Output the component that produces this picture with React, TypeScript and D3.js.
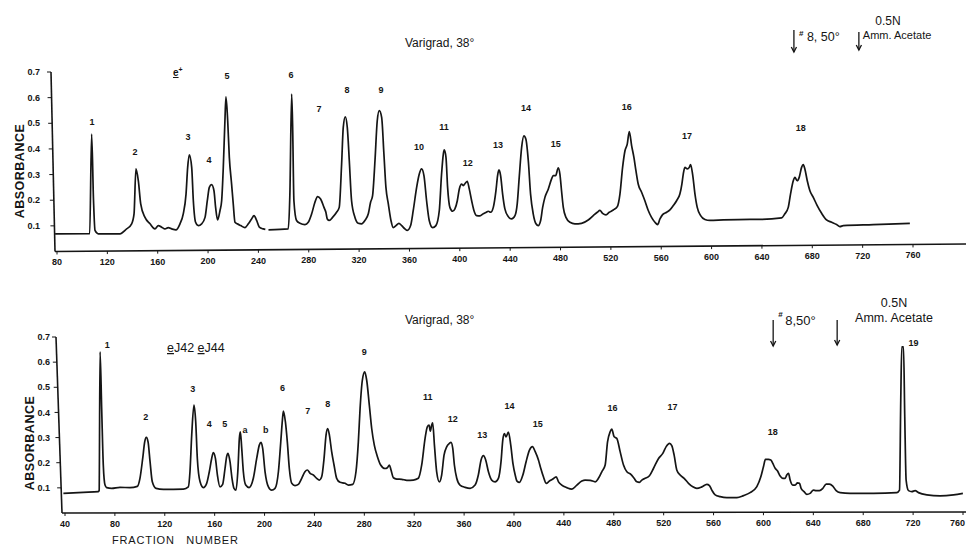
import React from "react";
import * as d3 from "d3";

// fraction number vs absorbance
// upper run: the pen lifts once near fraction 246, so it is kept in two pieces
const topTraceA: [number, number][] = [
  [78.5, 0.069], [106, 0.07], [107.5, 0.458], [109, 0.2], [110.2, 0.082], [112.8, 0.069],
  [130, 0.069], [135.3, 0.088], [139.3, 0.108], [141.2, 0.147], [142.7, 0.322], [144.6, 0.276],
  [146.5, 0.186], [149.9, 0.133], [153.9, 0.108], [157.8, 0.088], [160.5, 0.101], [163.1, 0.095],
  [165.8, 0.088], [168.4, 0.093], [171.1, 0.088], [174.5, 0.084], [177.7, 0.108], [180.3, 0.147],
  [182.5, 0.224], [183.8, 0.328], [185.1, 0.377], [187, 0.328], [188.3, 0.198], [190.1, 0.114],
  [192.3, 0.101], [194.9, 0.108], [197.6, 0.133], [199.4, 0.198], [201, 0.25], [202.8, 0.261],
  [204.7, 0.237], [206, 0.172], [207.6, 0.123], [209.5, 0.16], [210.8, 0.198], [212.1, 0.328],
  [213.4, 0.51], [214.2, 0.603], [215.6, 0.51], [216.9, 0.367], [218.7, 0.263], [220, 0.186],
  [221.4, 0.114], [223.2, 0.108], [225.9, 0.101], [229.3, 0.093], [232, 0.108], [234.6, 0.127],
  [236.5, 0.14], [238.6, 0.121], [240.7, 0.095], [243.9, 0.088], [245.5, 0.086],
];

const topTraceB: [number, number][] = [
  [248, 0.084], [263.7, 0.088], [265, 0.224], [266.4, 0.614], [267.2, 0.484], [268.2, 0.198],
  [270.3, 0.121], [273, 0.11], [277, 0.105], [279.6, 0.114], [282.3, 0.147], [284.9, 0.192],
  [287, 0.214], [289.4, 0.205], [292.1, 0.172], [293.6, 0.153], [294.7, 0.127], [296.3, 0.121],
  [298.9, 0.133], [302.1, 0.153], [304.2, 0.172], [306.1, 0.341], [307.4, 0.484], [309, 0.525],
  [310.6, 0.484], [312.2, 0.354], [314, 0.198], [316.7, 0.133], [319.3, 0.11], [322, 0.108],
  [324.6, 0.121], [327.3, 0.147], [329.1, 0.192], [330.7, 0.218], [332.6, 0.354], [334.4, 0.51],
  [336, 0.549], [337.9, 0.523], [339.7, 0.38], [341.3, 0.25], [343.2, 0.186], [345.3, 0.121],
  [347.1, 0.093], [349.3, 0.101], [351.6, 0.11], [353.8, 0.101], [356.4, 0.088], [358.3, 0.082],
  [360.9, 0.101], [363, 0.16], [365.7, 0.25], [367.8, 0.302], [369.6, 0.322], [371.5, 0.296],
  [373.6, 0.198], [375.7, 0.121], [378.4, 0.093], [381, 0.101], [383.7, 0.16], [385.5, 0.302],
  [386.9, 0.38], [387.6, 0.396], [389, 0.367], [390.3, 0.25], [392.1, 0.172], [394.3, 0.157],
  [396.1, 0.166], [398, 0.198], [399.6, 0.244], [401.4, 0.263], [402.7, 0.257], [404.3, 0.266],
  [405.9, 0.274], [407.5, 0.244], [409.4, 0.198], [411.2, 0.16], [413.3, 0.14], [416, 0.139],
  [418.6, 0.147], [420.7, 0.152], [422.6, 0.157], [424.5, 0.153], [426.6, 0.172], [428.7, 0.237],
  [430, 0.296], [431.1, 0.318], [432.4, 0.296], [434, 0.224], [435.8, 0.166], [438.5, 0.136],
  [441.1, 0.127], [443.8, 0.14], [445.6, 0.186], [447.2, 0.29], [449.1, 0.406], [450.9, 0.451],
  [452.5, 0.438], [454.4, 0.354], [456.2, 0.224], [458.3, 0.147], [460.5, 0.108], [462.3, 0.101],
  [464.2, 0.121], [465.8, 0.172], [467.6, 0.211], [470.3, 0.244], [472.9, 0.283], [474.2, 0.296],
  [476.1, 0.296], [478.2, 0.326], [479.5, 0.302], [480.8, 0.237], [482.2, 0.172], [484.3, 0.133],
  [487.5, 0.114], [491.4, 0.108], [496.7, 0.11], [502, 0.123], [506, 0.14], [509.2, 0.153],
  [511.3, 0.16], [513.4, 0.149], [516.1, 0.143], [518.7, 0.153], [521.9, 0.162], [525.1, 0.175],
  [527.2, 0.224], [529.3, 0.328], [531.2, 0.393], [533, 0.419], [534.6, 0.468], [536.5, 0.412],
  [538.3, 0.367], [539.9, 0.315], [541.7, 0.263], [544.4, 0.231], [547, 0.198], [549.7, 0.16],
  [552.3, 0.133], [555, 0.114], [557.1, 0.105], [559, 0.127], [561.1, 0.144], [564.3, 0.153],
  [566.9, 0.162], [569.6, 0.179], [572.2, 0.198], [574.8, 0.224], [576.4, 0.263], [577.5, 0.302],
  [578.8, 0.328], [580.7, 0.322], [582.3, 0.328], [583.3, 0.339], [584.9, 0.302], [586.8, 0.224],
  [588.6, 0.172], [591.3, 0.14], [594.7, 0.125], [598.7, 0.121], [609.3, 0.123], [630.5, 0.125],
  [638.4, 0.125], [655.6, 0.131], [658.2, 0.147], [660.9, 0.172], [662.7, 0.224], [664.9, 0.276],
  [666.2, 0.289], [668, 0.276], [669.6, 0.289], [671.5, 0.328], [672.8, 0.339], [674.1, 0.322],
  [676, 0.276], [678.1, 0.237], [680.8, 0.211], [683.9, 0.179], [687.4, 0.149], [691.3, 0.123],
  [695.3, 0.114], [699.3, 0.105], [701.9, 0.097], [704.6, 0.101], [728.4, 0.105], [757.5, 0.11],
];

// lower run
const bottomTrace: [number, number][] = [
  [38.7, 0.078], [54.7, 0.082], [66.7, 0.085], [67.4, 0.09], [68.1, 0.641], [69.4, 0.416],
  [70.7, 0.191], [72.1, 0.111], [73.4, 0.101], [77.4, 0.098], [84.1, 0.102], [92.1, 0.101],
  [98, 0.106], [100.1, 0.138], [102.3, 0.217], [103.9, 0.283], [105.2, 0.301], [106.6, 0.283],
  [108.2, 0.204], [110, 0.124], [113, 0.098], [118.9, 0.094], [134.9, 0.095], [138.9, 0.104],
  [140.2, 0.164], [141.6, 0.31], [143.4, 0.429], [144.8, 0.363], [146.1, 0.217], [148.3, 0.124],
  [150.9, 0.101], [153.6, 0.118], [155.7, 0.164], [157.6, 0.217], [158.9, 0.24], [160.6, 0.217],
  [162.2, 0.151], [164.3, 0.104], [166.4, 0.114], [168.3, 0.177], [169.6, 0.224], [170.7, 0.237],
  [172.3, 0.204], [173.9, 0.138], [175.5, 0.098], [177.1, 0.091], [178.7, 0.177], [179.8, 0.297],
  [180.6, 0.323], [181.7, 0.257], [183, 0.164], [184.9, 0.111], [187.6, 0.101], [191, 0.138],
  [193.7, 0.217], [195.8, 0.27], [197.2, 0.281], [198.5, 0.257], [200.4, 0.164], [203.1, 0.104],
  [205.7, 0.091], [208.4, 0.098], [211.1, 0.164], [213, 0.283], [214.3, 0.369], [215.1, 0.405],
  [216.7, 0.363], [218.3, 0.28], [219.9, 0.175], [221.8, 0.118], [224.4, 0.109], [227.1, 0.114],
  [229.8, 0.138], [232.4, 0.164], [234.3, 0.171], [236.5, 0.158], [239.1, 0.151], [241.8, 0.138],
  [243.9, 0.131], [245.8, 0.144], [247.7, 0.217], [249.3, 0.31], [250.6, 0.336], [252, 0.31],
  [253.8, 0.244], [255.7, 0.191], [257.8, 0.138], [260.5, 0.122], [264.5, 0.118], [267.2, 0.111],
  [270.7, 0.114], [273.3, 0.164], [275.2, 0.283], [276.6, 0.416], [278.4, 0.528], [280.3, 0.561],
  [281.9, 0.528], [284, 0.429], [285.9, 0.336], [288, 0.27], [290.5, 0.224], [293.1, 0.191],
  [296.6, 0.177], [298.5, 0.18], [300.1, 0.191], [301.4, 0.171], [303.3, 0.14], [306, 0.135],
  [310, 0.134], [314, 0.13], [319.3, 0.131], [323.3, 0.138], [326, 0.191], [328.7, 0.297],
  [330.5, 0.343], [331.9, 0.35], [332.9, 0.326], [334, 0.35], [334.8, 0.359], [336.2, 0.27],
  [338, 0.164], [340.2, 0.124], [342, 0.151], [343.9, 0.23], [346.1, 0.264], [348.2, 0.277],
  [349.5, 0.281], [350.9, 0.257], [352.2, 0.191], [354.1, 0.138], [356.7, 0.111], [360.8, 0.102],
  [364.8, 0.098], [368.8, 0.111], [371.4, 0.151], [373.6, 0.211], [375.5, 0.228], [377.3, 0.211],
  [379.5, 0.164], [382.1, 0.131], [384.8, 0.124], [387.5, 0.138], [389.6, 0.204], [391, 0.29],
  [392.3, 0.316], [393.6, 0.303], [395.5, 0.322], [397.4, 0.27], [399.2, 0.195], [401, 0.15],
  [402.4, 0.127], [404.4, 0.122], [407.1, 0.151], [409.7, 0.204], [412.4, 0.25], [414.8, 0.264],
  [417, 0.244], [419.6, 0.211], [421.5, 0.177], [423.6, 0.144], [425.8, 0.118], [428.4, 0.127],
  [431.1, 0.135], [433.8, 0.144], [435.7, 0.124], [438.3, 0.111], [442.3, 0.101], [446.4, 0.095],
  [450.4, 0.111], [454.4, 0.127], [457, 0.131], [461.1, 0.13], [465.1, 0.124], [467.7, 0.138],
  [470.4, 0.164], [473.1, 0.191], [475, 0.283], [477.1, 0.323], [478.4, 0.334], [480.3, 0.303],
  [482.4, 0.297], [485.1, 0.244], [487.8, 0.191], [490.5, 0.164], [493.7, 0.154], [496.3, 0.138],
  [498.5, 0.124], [500.6, 0.122], [502.5, 0.131], [505.2, 0.138], [508.6, 0.148], [511.8, 0.177],
  [515.9, 0.217], [519.3, 0.237], [522, 0.264], [524.7, 0.277], [526.5, 0.268], [528.4, 0.23],
  [530.5, 0.171], [533.2, 0.151], [536.4, 0.138], [539.9, 0.118], [543.4, 0.104], [546.6, 0.098],
  [550.6, 0.104], [554.6, 0.114], [556.7, 0.109], [558.6, 0.091], [561.3, 0.072], [565.3, 0.065],
  [570.6, 0.061], [578.7, 0.061], [584, 0.069], [589.3, 0.081], [594.7, 0.105], [597.9, 0.144],
  [600, 0.184], [601.6, 0.213], [604, 0.213], [605.9, 0.211], [607.5, 0.197], [609.4, 0.178],
  [611.2, 0.168], [613.4, 0.147], [615.5, 0.138], [617.4, 0.138], [618.7, 0.151], [620.1, 0.158],
  [621.4, 0.131], [623.5, 0.111], [625.4, 0.111], [627.3, 0.12], [628.9, 0.118], [630.2, 0.098],
  [632.6, 0.085], [634.8, 0.074], [637.4, 0.078], [640.1, 0.091], [642.2, 0.089], [644.9, 0.089],
  [647.6, 0.098], [650.3, 0.115], [652.9, 0.115], [655.6, 0.107], [658.3, 0.089], [661.5, 0.081],
  [669.5, 0.078], [688.2, 0.078], [706.9, 0.081], [709.1, 0.091], [710.1, 0.449], [710.9, 0.661],
  [712.3, 0.661], [713.3, 0.383], [714.4, 0.131], [716.3, 0.089], [719, 0.085], [721.6, 0.089],
  [724.3, 0.081], [731, 0.072], [741.7, 0.068], [752.4, 0.072], [759.9, 0.078],
];

const topXTicks = [80, 120, 160, 200, 240, 280, 320, 360, 400, 440, 480, 520, 560, 600, 640, 680, 720, 760];
const bottomXTicks = [40, 80, 120, 160, 200, 240, 280, 320, 360, 400, 440, 480, 520, 560, 600, 640, 680, 720, 760];
const yTicks = [0.1, 0.2, 0.3, 0.4, 0.5, 0.6, 0.7];

// peak numbers, placed at [fraction, absorbance]
const topPeakNames = ["1", "2", "3", "4", "5", "6", "7", "8", "9", "10", "11", "12", "13", "14", "15", "16", "17", "18"];
const topPeakSpots: [number, number][] = [
  [107.8, 0.505], [142, 0.388], [184.1, 0.447], [200.7, 0.357], [215, 0.684], [265.9, 0.688],
  [288.1, 0.556], [310.3, 0.63], [337.3, 0.63], [367.5, 0.408], [387.4, 0.486], [406.4, 0.345],
  [430.3, 0.415], [452.5, 0.56], [476.3, 0.419], [532.7, 0.564], [580.4, 0.45], [670.9, 0.482],
];
const bottomPeakNames = ["1", "2", "3", "4", "5", "a", "b", "6", "7", "8", "9", "11", "12", "13", "14", "15", "16", "17", "18", "19"];
const bottomPeakSpots: [number, number][] = [
  [73.9, 0.668], [104.7, 0.383], [142.4, 0.492], [155.7, 0.354], [168.1, 0.354], [184.3, 0.33],
  [200.9, 0.33], [214.3, 0.496], [234.6, 0.406], [250.7, 0.436], [280, 0.642], [330.9, 0.463],
  [350.9, 0.373], [374.6, 0.31], [396.3, 0.427], [419.1, 0.354], [478.9, 0.419], [527, 0.423],
  [607.5, 0.323], [720.3, 0.677],
];

// fractions where the buffer was changed (arrows)
const topBufferChanges = [665.4, 717];
const bottomBufferChanges = [607.8, 659.1];

const FONT = "'Liberation Sans', Arial, sans-serif";
const INK = "#151515";
const W = 966;

function Arrow({ x, y1, y2 }: { x: number; y1: number; y2: number }) {
  return (
    <g stroke={INK} strokeWidth={1.3} fill="none">
      <line x1={x} y1={y1} x2={x} y2={y2} />
      <path d={`M${x - 2.6},${y2 - 5} L${x},${y2} L${x + 2.6},${y2 - 5}`} />
    </g>
  );
}

function Panel({
  traces, x, y, xTicks, yAxisX, axisDrop, peakNames, peakSpots, yLabelX, titleY, absY,
}: {
  traces: [number, number][][];
  x: d3.ScaleLinear<number, number>;
  y: d3.ScaleLinear<number, number>;
  xTicks: number[];
  yAxisX: [number, number];
  axisDrop: number;
  peakNames: string[];
  peakSpots: [number, number][];
  yLabelX: number;
  titleY: number;
  absY: number;
}) {
  const line = d3
    .line<[number, number]>()
    .x((d) => x(d[0]))
    .y((d) => y(d[1]))
    .curve(d3.curveMonotoneX);

  const y0 = y(0);
  const yTop = y(0.7);
  // baseline of the x axis drifts slightly on the scan
  const axisY = (px: number) => y0 - ((px - yAxisX[1]) / (W - yAxisX[1])) * axisDrop;
  const yAxisAt = (py: number) => yAxisX[0] + ((py - yTop) / (y0 - yTop)) * (yAxisX[1] - yAxisX[0]);

  return (
    <g>
      {/* axes */}
      <g stroke={INK} strokeWidth={1.6} fill="none">
        <line x1={yAxisX[0]} y1={yTop} x2={yAxisX[1]} y2={y0} />
        <line x1={yAxisX[1]} y1={y0} x2={W} y2={y0 - axisDrop} />
      </g>
      <g stroke={INK} strokeWidth={1}>
        {yTicks.map((t) => {
          const py = y(t);
          const ax = yAxisAt(py);
          return <line key={t} x1={ax - 4} y1={py} x2={ax} y2={py} />;
        })}
        {xTicks.map((t) => {
          const px = x(t);
          return <line key={t} x1={px} y1={axisY(px)} x2={px} y2={axisY(px) + 3} />;
        })}
      </g>
      <g fontFamily={FONT} fontWeight="bold" fontSize={9} fill={INK}>
        {yTicks.map((t) => (
          <text key={t} x={yLabelX} y={y(t)} dy="0.35em" textAnchor="end">
            {t.toFixed(1)}
          </text>
        ))}
        {xTicks.map((t) => {
          const px = x(t);
          const nearEdge = px + 10 > W;
          return (
            <text
              key={t}
              x={nearEdge ? W - 1 : px}
              y={axisY(px) + 14}
              textAnchor={nearEdge ? "end" : "middle"}
            >
              {t}
            </text>
          );
        })}
      </g>

      {/* trace */}
      {traces.map((tr, i) => (
        <path
          key={i}
          d={line(tr) ?? ""}
          fill="none"
          stroke={INK}
          strokeWidth={1.7}
          strokeLinejoin="round"
        />
      ))}

      {/* peak numbers */}
      <g fontFamily={FONT} fontWeight="bold" fontSize={9} fill={INK} textAnchor="middle">
        {peakNames.map((n, i) => (
          <text key={n + i} x={x(peakSpots[i][0])} y={y(peakSpots[i][1])} dy="0.35em">
            {n}
          </text>
        ))}
      </g>

      <text
        fontFamily={FONT}
        fontWeight="bold"
        fontSize={12.5}
        letterSpacing={0.5}
        fill={INK}
        textAnchor="middle"
        transform={`translate(${yLabelX - 20},${absY}) rotate(-90)`}
        dy="0.35em"
      >
        ABSORBANCE
      </text>
      <text x={405} y={titleY} fontFamily={FONT} fontSize={12} fill={INK}>
        Varigrad, 38°
      </text>
    </g>
  );
}

export default function App() {
  const xTop = d3.scaleLinear().domain([80, 760]).range([57, 913]);
  const yTopScale = d3.scaleLinear().domain([0, 0.7]).range([251.5, 72]);
  const xBot = d3.scaleLinear().domain([40, 760]).range([65, 963]);
  const yBot = d3.scaleLinear().domain([0, 0.7]).range([513, 337]);

  const [ta1, ta2] = topBufferChanges.map((f) => xTop(f));
  const [ba1, ba2] = bottomBufferChanges.map((f) => xBot(f));

  return (
    <svg
      width={966}
      height={546}
      viewBox="0 0 966 546"
      style={{ position: "absolute", left: 0, top: 0, background: "#fff" }}
    >
      <rect width={966} height={546} fill="#fff" />

      <Panel
        traces={[topTraceA, topTraceB]}
        x={xTop}
        y={yTopScale}
        xTicks={topXTicks}
        yAxisX={[51, 55]}
        axisDrop={7.5}
        peakNames={topPeakNames}
        peakSpots={topPeakSpots}
        yLabelX={40}
        titleY={47}
        absY={171}
      />
      <Panel
        traces={[bottomTrace]}
        x={xBot}
        y={yBot}
        xTicks={bottomXTicks}
        yAxisX={[56, 62]}
        axisDrop={1}
        peakNames={bottomPeakNames}
        peakSpots={bottomPeakSpots}
        yLabelX={50}
        titleY={324}
        absY={443}
      />

      {/* upper annotations */}
      <text x={173} y={76} fontFamily={FONT} fontWeight="bold" fontSize={10} fill={INK}>
        <tspan textDecoration="underline">e</tspan>
        <tspan dy={-4} fontSize={7}>+</tspan>
      </text>
      <Arrow x={ta1} y1={30} y2={52} />
      <Arrow x={ta2} y1={32} y2={50} />
      <g fontFamily={FONT} fill={INK}>
        <text x={ta1 + 5} y={36} fontSize={8} fontWeight="bold">#</text>
        <text x={ta1 + 13} y={41} fontSize={12.5}>8, 50°</text>
        <text x={888} y={25} fontSize={12} textAnchor="middle">0.5N</text>
        <text x={ta2 + 4} y={39} fontSize={11}>Amm. Acetate</text>
      </g>

      {/* lower annotations */}
      <text x={167} y={352} fontFamily={FONT} fontSize={12.5} fill={INK}>
        <tspan textDecoration="underline">e</tspan>
        <tspan>J42 </tspan>
        <tspan textDecoration="underline">e</tspan>
        <tspan>J44</tspan>
      </text>
      <Arrow x={ba1} y1={320} y2={346} />
      <Arrow x={ba2} y1={320} y2={345} />
      <g fontFamily={FONT} fill={INK}>
        <text x={ba1 + 5} y={317} fontSize={8} fontWeight="bold">#</text>
        <text x={ba1 + 12} y={325} fontSize={13}>8,50°</text>
        <text x={894} y={307} fontSize={12.5} textAnchor="middle">0.5N</text>
        <text x={894} y={322} fontSize={12.5} textAnchor="middle">Amm. Acetate</text>
      </g>
      <text
        x={112}
        y={544}
        fontFamily={FONT}
        fontSize={11}
        letterSpacing={0.8}
        fill={INK}
        style={{ whiteSpace: "pre" }}
      >
        FRACTION   NUMBER
      </text>
    </svg>
  );
}
